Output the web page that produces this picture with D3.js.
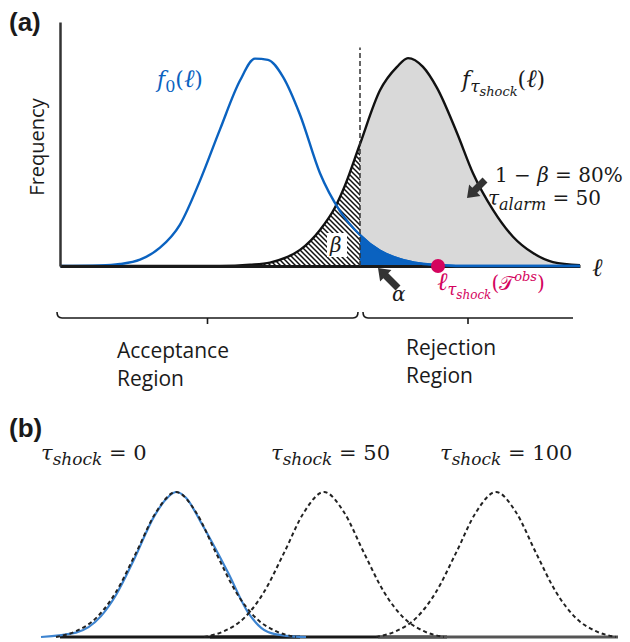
<!DOCTYPE html>
<html>
<head>
<meta charset="utf-8">
<script src="https://cdn.jsdelivr.net/npm/d3@7"></script>
<style>
  html, body { margin: 0; padding: 0; background: #fff; }
  svg { display: block; }
</style>
</head>
<body>
<svg id="chart" width="630" height="642"></svg>
<script>
// ---- panel (a): the two distributions ----
let f0Ell = [0, 4, 6, 8, 10, 12, 14, 16, 18, 19.5, 20.8, 22.3, 24, 26, 28, 30, 32, 34, 36, 38, 40, 52];
let f0Freq = [0, 0.002, 0.008, 0.026, 0.075, 0.17, 0.35, 0.56, 0.76, 0.85, 0.845, 0.775, 0.62, 0.38, 0.225, 0.127, 0.062, 0.028, 0.01, 0.003, 0, 0];
let shockEll = [0, 16, 19, 21, 22.5, 24, 26, 27.5, 28.5, 30, 32, 33.7, 34.8, 36.3, 37.7, 39.7, 41.3, 43.3, 45.3, 47.3, 49.3, 52];
let shockFreq = [0, 0, 0.005, 0.014, 0.033, 0.066, 0.148, 0.24, 0.33, 0.5, 0.72, 0.816, 0.852, 0.816, 0.73, 0.545, 0.38, 0.23, 0.12, 0.053, 0.016, 0.003];
let tauAlarmEll = 30;   // critical value (dashed line)
let obsEll = 37.8;      // observed statistic (dot)
let powerText = '80%';
let tauAlarmText = '50';
let regionLabels = [['Acceptance', 'Region'], ['Rejection', 'Region']];

// ---- panel (b): shifted alternatives ----
let shockTaus = [0, 50, 100];
let shockPeaks = [13.6, 28.4, 45.6];
let dashOffsets = [-12, -10, -8, -6, -4, -2, 0, 2, 4, 6, 8, 10, 12];
let dashHeights = [0, 0.04, 0.13, 0.31, 0.58, 0.86, 1, 0.86, 0.58, 0.31, 0.13, 0.04, 0];
let blueOffsets = [-13.5, -10, -7.5, -6, -4.2, -2.2, -1, 0, 1, 2.5, 5.2, 7.2, 9.2, 11, 13];
let blueHeights = [0, 0.03, 0.144, 0.29, 0.534, 0.83, 0.95, 1, 0.96, 0.79, 0.445, 0.17, 0.034, 0.008, 0];
let baseSegments = [[2, 26], [17, 40.7], [33.8, 57.8]];

let MATH = "'DejaVu Serif', serif";
let ELL = "'Liberation Serif', 'Times New Roman', serif";
let SANS = "'Open Sans', sans-serif";
let BLUE = '#0a62c0';
let BLUE_B = '#3d84d0';
let PINK = '#d4045e';
let INK = '#1a1a1a';

let svg = d3.select('#chart');
let defs = svg.append('defs');

// diagonal hatch for beta
let hatch = defs.append('pattern')
  .attr('id', 'hatch')
  .attr('patternUnits', 'userSpaceOnUse')
  .attr('width', 5)
  .attr('height', 5);
hatch.append('rect').attr('width', 5).attr('height', 5).attr('fill', '#fff');
hatch.append('path')
  .attr('d', 'M-1,-1L6,6M-1,4L1,6M4,-1L6,1')
  .attr('stroke', '#111')
  .attr('stroke-width', 1.5);

function mathLabel (parent, x, y, runs, opt) {
  opt = opt || {};
  let size = opt.size || 20;
  let t = parent.append('text')
    .attr('x', x)
    .attr('y', y)
    .attr('font-family', MATH)
    .attr('font-size', size)
    .attr('fill', opt.color || INK)
    .style('white-space', 'pre');
  let cur = 0;
  runs.forEach(r => {
    let off = r.dy || 0;
    let ts = t.append('tspan')
      .attr('dy', off - cur)
      .attr('font-size', r.size || size)
      .attr('font-style', r.it ? 'italic' : 'normal')
      .text(r.t);
    if (r.font) ts.attr('font-family', r.font);
    cur = off;
  });
  return t;
}

function blockArrow (parent, tail, tip) {
  // chunky arrow like the office-style callouts
  let dx = tip[0] - tail[0];
  let dy = tip[1] - tail[1];
  let len = Math.sqrt(dx * dx + dy * dy);
  let ux = dx / len, uy = dy / len;
  let nx = -uy, ny = ux;
  let head = 11, hw = 8, sw = 3.5;
  let bx = tip[0] - ux * head, by = tip[1] - uy * head;
  let pts = [
    [tail[0] + nx * sw, tail[1] + ny * sw],
    [bx + nx * sw, by + ny * sw],
    [bx + nx * hw, by + ny * hw],
    tip,
    [bx - nx * hw, by - ny * hw],
    [bx - nx * sw, by - ny * sw],
    [tail[0] - nx * sw, tail[1] - ny * sw]
  ];
  parent.append('path')
    .attr('d', 'M' + pts.map(p => p.join(',')).join('L') + 'Z')
    .attr('fill', '#333');
}

// ================= panel (a) =================
let x = d3.scaleLinear().domain([0, 52]).range([60, 580]);
let y = d3.scaleLinear().domain([0, 1]).range([266, 22]);

let f0 = f0Ell.map((l, i) => ({ l: l, f: f0Freq[i] }));
let fs = shockEll.map((l, i) => ({ l: l, f: shockFreq[i] }));

defs.append('clipPath').attr('id', 'clipLeft')
  .append('rect')
  .attr('x', x(0) - 5).attr('y', 0)
  .attr('width', x(tauAlarmEll) - x(0) + 5).attr('height', 300);
defs.append('clipPath').attr('id', 'clipRight')
  .append('rect')
  .attr('x', x(tauAlarmEll)).attr('y', 0)
  .attr('width', x(52) - x(tauAlarmEll) + 10).attr('height', 300);

let area = d3.area()
  .x(d => x(d.l))
  .y0(y(0))
  .y1(d => y(d.f))
  .curve(d3.curveMonotoneX);
let line = d3.line()
  .x(d => x(d.l))
  .y(d => y(d.f))
  .curve(d3.curveMonotoneX);

let pa = svg.append('g').attr('class', 'panel-a');

// power (grey), beta (hatched), alpha (blue)
pa.append('path').attr('d', area(fs)).attr('fill', '#d9d9d9').attr('clip-path', 'url(#clipRight)');
pa.append('path').attr('d', area(fs)).attr('fill', 'url(#hatch)').attr('clip-path', 'url(#clipLeft)');
pa.append('path').attr('d', area(f0)).attr('fill', BLUE).attr('clip-path', 'url(#clipRight)');

pa.append('path').attr('d', line(fs))
  .attr('fill', 'none').attr('stroke', '#111').attr('stroke-width', 2.4);
pa.append('path').attr('d', line(f0))
  .attr('fill', 'none').attr('stroke', BLUE).attr('stroke-width', 2.4);

// axes: just the domain lines
pa.append('g')
  .attr('transform', 'translate(0,' + y(0) + ')')
  .call(d3.axisBottom(x).ticks(0).tickSizeOuter(0))
  .call(g => g.select('.domain').attr('stroke', INK).attr('stroke-width', 3));
pa.append('g')
  .attr('transform', 'translate(' + x(0) + ',0)')
  .call(d3.axisLeft(y).ticks(0).tickSizeOuter(0))
  .call(g => g.select('.domain').attr('stroke', '#333').attr('stroke-width', 2.5));

// the null curve stays on top of the baseline in the rejection region
pa.append('path').attr('d', line(f0))
  .attr('fill', 'none').attr('stroke', BLUE).attr('stroke-width', 2.4)
  .attr('clip-path', 'url(#clipRight)');

// critical value
pa.append('line')
  .attr('x1', x(tauAlarmEll)).attr('x2', x(tauAlarmEll))
  .attr('y1', y(0)).attr('y2', y(0.895))
  .attr('stroke', '#333').attr('stroke-width', 1.5)
  .attr('stroke-dasharray', '5,3');

// observed value
pa.append('circle')
  .attr('cx', x(obsEll)).attr('cy', y(0))
  .attr('r', 7).attr('fill', PINK);

// labels
pa.append('text')
  .attr('x', 9).attr('y', 31)
  .attr('font-family', "'Liberation Sans', Arial, sans-serif")
  .attr('font-weight', 'bold').attr('font-size', 26)
  .attr('fill', INK).text('(a)');

pa.append('text')
  .attr('transform', 'translate(44,' + (y(0.5) + 3) + ') rotate(-90)')
  .attr('text-anchor', 'middle')
  .attr('font-family', SANS).attr('font-size', 20)
  .attr('fill', INK).text('Frequency');

mathLabel(pa, 157, 87, [
  { t: 'f', it: true },
  { t: '0', dy: 5, size: 16 },
  { t: '(', dy: 0 },
  { t: 'ℓ', it: true, font: ELL, size: 25 },
  { t: ')' }
], { color: BLUE, size: 22 });

mathLabel(pa, 462, 87, [
  { t: 'f', it: true },
  { t: 'τ', it: true, dy: 5, size: 17 },
  { t: 'shock', it: true, dy: 9, size: 13 },
  { t: '(', dy: 0 },
  { t: 'ℓ', it: true, font: ELL, size: 25 },
  { t: ')' }
], { size: 22 });

mathLabel(pa, 495, 182, [
  { t: '1 − ' },
  { t: 'β', it: true },
  { t: ' = ' + powerText }
]);
mathLabel(pa, 488, 205, [
  { t: 'τ', it: true },
  { t: 'alarm', it: true, dy: 5, size: 16 },
  { t: ' = ' + tauAlarmText, dy: 0 }
]);
blockArrow(pa, [485, 180], [467, 198]);

pa.append('rect')
  .attr('x', 327).attr('y', 233).attr('width', 20).attr('height', 24)
  .attr('fill', '#fff');
mathLabel(pa, 330, 252, [{ t: 'β', it: true }]);

blockArrow(pa, [398, 288], [378, 268]);
mathLabel(pa, 392, 301, [{ t: 'α', it: true }]);

mathLabel(pa, 437, 290, [
  { t: 'ℓ', it: true, font: ELL, size: 25 },
  { t: 'τ', it: true, dy: 5, size: 16 },
  { t: 'shock', it: true, dy: 9, size: 12 },
  { t: '(', dy: 0 },
  { t: '𝒯' },
  { t: 'obs', it: true, dy: -9, size: 13 },
  { t: ')', dy: 0 }
], { color: PINK });

mathLabel(pa, 592, 276, [{ t: 'ℓ', it: true, font: ELL, size: 25 }]);

// region braces
function brace (x0, x1, hookRight) {
  let yb = 318, mid = (x0 + x1) / 2;
  let d = 'M' + x0 + ',' + (yb - 6) + 'Q' + x0 + ',' + yb + ' ' + (x0 + 5) + ',' + yb +
    'L' + (hookRight ? x1 - 5 : x1) + ',' + yb;
  if (hookRight) d += 'Q' + x1 + ',' + yb + ' ' + x1 + ',' + (yb - 6);
  d += 'M' + mid + ',' + yb + 'L' + mid + ',' + (yb + 6);
  pa.append('path').attr('d', d)
    .attr('fill', 'none').attr('stroke', INK).attr('stroke-width', 1.6);
}
brace(x(-0.3), x(tauAlarmEll) - 2, true);
brace(x(tauAlarmEll) + 3, x(51.3), false);

let regionX = [117, 406];
let regionY = [358, 355];
regionLabels.forEach((lines, i) => {
  let t = pa.append('text')
    .attr('font-family', SANS).attr('font-size', 21).attr('fill', INK);
  lines.forEach((s, j) => {
    t.append('tspan')
      .attr('x', regionX[i])
      .attr('y', regionY[i] + j * 28)
      .text(s);
  });
});

// ================= panel (b) =================
let xb = d3.scaleLinear().domain([0, 58]).range([40, 620]);
let yb = d3.scaleLinear().domain([0, 1]).range([637, 492]);
let lineB = d3.line()
  .x(d => xb(d.l))
  .y(d => yb(d.f))
  .curve(d3.curveMonotoneX);

let pb = svg.append('g').attr('class', 'panel-b');

pb.append('text')
  .attr('x', 9).attr('y', 437)
  .attr('font-family', "'Liberation Sans', Arial, sans-serif")
  .attr('font-weight', 'bold').attr('font-size', 26)
  .attr('fill', INK).text('(b)');

pb.selectAll('line.base')
  .data(baseSegments)
  .join('line')
  .attr('class', 'base')
  .attr('x1', d => xb(d[0])).attr('x2', d => xb(d[1]))
  .attr('y1', yb(0)).attr('y2', yb(0))
  .attr('stroke', (d, i) => i === 2 ? '#555' : INK)
  .attr('stroke-width', 3);

let blueCurve = blueOffsets.map((o, i) => ({ l: shockPeaks[0] + o, f: blueHeights[i] }));
pb.append('path').attr('d', lineB(blueCurve))
  .attr('fill', 'none').attr('stroke', BLUE_B).attr('stroke-width', 2.2);

pb.selectAll('path.alt')
  .data(shockPeaks)
  .join('path')
  .attr('class', 'alt')
  .attr('d', p => lineB(dashOffsets.map((o, i) => ({ l: p + o, f: dashHeights[i] }))))
  .attr('fill', 'none')
  .attr('stroke', '#222')
  .attr('stroke-width', 2)
  .attr('stroke-dasharray', '4,3');

let tauLabelX = [41, 271, 440];
shockTaus.forEach((tau, i) => {
  mathLabel(pb, tauLabelX[i], 460, [
    { t: 'τ', it: true },
    { t: 'shock', it: true, dy: 5, size: 17 },
    { t: ' = ' + tau, dy: 0 }
  ], { size: 21 });
});
</script>
</body>
</html>
